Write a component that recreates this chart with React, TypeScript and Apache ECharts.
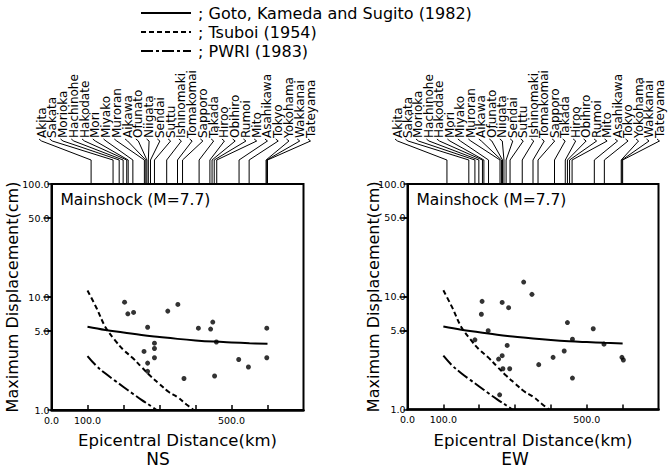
import React, { useEffect, useRef } from 'react';
import * as echarts from 'echarts';

const FONT = '"DejaVu Sans", "Liberation Sans", sans-serif';

// Stations (leader labels) and their epicentral distances (km)
const stationNames = ['Akita', 'Sakata', 'Morioka', 'Hachinohe', 'Hakodate', 'Mori', 'Miyako', 'Muroran', 'Aikawa', 'Ofunato', 'Niigata', 'Sendai', 'Suttu', 'Ishinomaki', 'Tomakomai', 'Sapporo', 'Takada', 'Hiroo', 'Obihiro', 'Rumoi', 'Mito', 'Asahikawa', 'Tokyo', 'Yokohama', 'Wakkanai', 'Tateyama'];
const stationDistKm = [110, 171, 188, 199, 209, 213, 226, 258, 262, 265, 269, 275, 286, 320, 350, 364, 410, 440, 446, 452, 459, 521, 549, 596, 598, 600];

// Observed maximum displacement, NS component
const nsDist = [203, 212, 228, 323, 351, 267, 408, 442, 448, 598, 257, 286, 286, 286, 267, 267, 368, 453, 520, 547, 598, 458];
const nsDisp = [9.0, 7.1, 7.3, 7.5, 8.6, 5.4, 5.3, 5.2, 6.0, 5.3, 3.3, 3.9, 3.5, 2.9, 2.6, 2.2, 1.9, 2.0, 2.8, 2.4, 2.9, 4.0];

// Observed maximum displacement, EW component
const ewDist = [324, 347, 208, 264, 282, 206, 225, 188, 278, 264, 254, 266, 285, 366, 406, 257, 437, 446, 460, 460, 518, 548, 598, 602];
const ewDisp = [13.5, 10.5, 9.1, 8.9, 8.0, 7.0, 5.0, 4.15, 3.7, 3.0, 2.8, 2.3, 2.3, 2.5, 2.9, 1.35, 3.3, 5.9, 4.2, 1.9, 5.2, 3.8, 2.9, 2.75];

// Empirical curves
const gotoDist = [100, 150, 200, 250, 300, 350, 400, 450, 500, 550, 600];
const gotoDisp = [5.45, 5.1, 4.85, 4.6, 4.42, 4.26, 4.13, 4.03, 3.96, 3.9, 3.85];
const tsuboiDist = [100, 125, 150, 175, 200, 225, 250, 275, 300, 325, 350, 375, 395];
const tsuboiDisp = [11.4, 8.0, 5.4, 4.2, 3.4, 2.9, 2.4, 2.0, 1.7, 1.45, 1.3, 1.12, 1.0];
const pwriDist = [100, 125, 150, 175, 200, 225, 250, 275, 292];
const pwriDisp = [3.0, 2.45, 2.1, 1.83, 1.6, 1.4, 1.23, 1.09, 1.0];

// Axis ticks
const xTickValues = [100, 200, 300, 400, 500, 600];
const xLabelValues = [0, 100, 500];
const yTickValues = [1, 5, 10, 50, 100];
const yRightTickValues = [5, 10, 50];

const legendLabels = ['; Goto, Kameda and Sugito (1982)', '; Tsuboi (1954)', '; PWRI (1983)'];
const panelTitles = ['NS', 'EW'];
const panelNote = 'Mainshock (M=7.7)';
const xAxisName = 'Epicentral Distance(km)';
const yAxisName = 'Maximum Displacement(cm)';

const LOG = (v: number) => Math.log10(v);
const pairs = (xs: number[], ys: number[]) => xs.map((x, i) => [x, LOG(ys[i])]);

const DASHED = [5, 3];
const DASHDOT = [12, 3, 3, 3];

export default function App() {
  const ref = useRef<HTMLDivElement>(null);

  useEffect(() => {
    document.body.style.margin = '0';
    if (!ref.current) return;
    const chart = echarts.init(ref.current, null, { renderer: 'svg' });

    const grids = [
      { left: 51.5, top: 184, width: 252, height: 226 },
      { left: 407.5, top: 184, width: 251, height: 225.5 },
    ];
    const yNameGaps = [31, 26];
    const labelSpan = [17, 11];

    const xAxes = grids.map((_, i) => ({
      gridIndex: i,
      type: 'value',
      min: 0,
      max: 700,
      name: xAxisName,
      nameLocation: 'middle',
      nameGap: 22,
      nameMoveOverlap: false,
      nameTextStyle: { fontSize: 16.5, fontFamily: FONT, color: '#000' },
      axisLine: { show: true, onZero: false, lineStyle: { color: '#000', width: 2.5 } },
      axisTick: { show: true, inside: true, length: 5, customValues: xTickValues, lineStyle: { color: '#000', width: 1.5 } },
      axisLabel: { show: true, customValues: xLabelValues, formatter: (v: number) => v.toFixed(1), fontSize: 9.5, fontFamily: FONT, color: '#000', margin: 5 },
      splitLine: { show: false },
    }));

    const yAxes: any[] = [];
    grids.forEach((_, i) => {
      yAxes.push({
        gridIndex: i,
        type: 'value',
        position: 'left',
        min: 0,
        max: 2,
        name: yAxisName,
        nameLocation: 'middle',
        nameGap: yNameGaps[i],
        nameMoveOverlap: false,
        nameTextStyle: { fontSize: 16, fontFamily: FONT, color: '#000' },
        axisLine: { show: true, onZero: false, lineStyle: { color: '#000', width: 2 } },
        axisTick: { show: true, inside: false, length: 4, customValues: yTickValues.map(LOG), lineStyle: { color: '#000', width: 1.5 } },
        axisLabel: { show: true, customValues: yTickValues.map(LOG), formatter: (v: number) => Math.pow(10, v).toFixed(1), fontSize: 9.5, fontFamily: FONT, color: '#000', margin: 2 },
        splitLine: { show: false },
      });
      yAxes.push({
        gridIndex: i,
        type: 'value',
        position: 'right',
        min: 0,
        max: 2,
        axisLine: { show: false },
        axisTick: { show: true, inside: true, length: 8, customValues: yRightTickValues.map(LOG), lineStyle: { color: '#000', width: 1.5 } },
        axisLabel: { show: false },
        splitLine: { show: false },
      });
    });

    const obs = [pairs(nsDist, nsDisp), pairs(ewDist, ewDisp)];
    const series: any[] = [];
    grids.forEach((_, i) => {
      const common = { xAxisIndex: i, yAxisIndex: i * 2 };
      series.push({ ...common, type: 'scatter', data: obs[i], symbol: 'circle', symbolSize: 5, itemStyle: { color: '#000' }, silent: true });
      series.push({ ...common, type: 'line', data: pairs(gotoDist, gotoDisp), smooth: 0.4, showSymbol: false, lineStyle: { color: '#000', width: 2 } });
      series.push({ ...common, type: 'line', data: pairs(tsuboiDist, tsuboiDisp), smooth: 0.4, showSymbol: false, lineStyle: { color: '#000', width: 2, type: DASHED } });
      series.push({ ...common, type: 'line', data: pairs(pwriDist, pwriDisp), smooth: 0.4, showSymbol: false, lineStyle: { color: '#000', width: 2, type: DASHDOT } });
      const span = labelSpan[i];
      series.push({
        ...common,
        type: 'custom',
        clip: false,
        silent: true,
        data: stationDistKm.map((d, k) => [d, 2, k]),
        renderItem: (params: any, api: any) => {
          const k = api.value(2);
          const d = api.value(0);
          const top = api.coord([d, 2]);
          const cs = params.coordSys;
          const step = (cs.width + span) / (stationNames.length - 1);
          const lx = cs.x - 10 + k * step;
          const lb = cs.y - 45;
          const bend = cs.y - 24;
          return {
            type: 'group',
            children: [
              {
                type: 'polyline',
                shape: { points: [[lx - 2.5, lb], [lx, lb + 2], [top[0], bend], [top[0], cs.y]] },
                style: { stroke: '#000', fill: null, lineWidth: 1 },
              },
              {
                type: 'text',
                x: lx,
                y: lb - 1,
                rotation: Math.PI / 2,
                style: { text: stationNames[k], fontSize: 12, fontFamily: FONT, fill: '#000', align: 'left', verticalAlign: 'middle' },
              },
            ],
          };
        },
      });
    });

    const legendY = [13, 32, 51];
    const legendDash: any[] = [null, DASHED, DASHDOT];
    const graphic: any[] = [];
    legendLabels.forEach((t, i) => {
      graphic.push({
        type: 'line',
        shape: { x1: 141, y1: legendY[i], x2: 191, y2: legendY[i] },
        style: { stroke: '#000', lineWidth: 2, lineDash: legendDash[i] || undefined },
      });
      graphic.push({
        type: 'text',
        x: 198,
        y: legendY[i],
        style: { text: t, fontSize: 16, lineHeight: 16, fontFamily: FONT, fill: '#000', align: 'left', verticalAlign: 'middle' },
      });
    });
    grids.forEach((g) => {
      graphic.push({
        type: 'text',
        x: g.left + 9,
        y: g.top + 16,
        style: { text: panelNote, fontSize: 15.5, fontFamily: FONT, fill: '#000', align: 'left', verticalAlign: 'middle' },
      });
    });
    const titleX = [158, 515];
    panelTitles.forEach((t, i) => {
      graphic.push({
        type: 'text',
        x: titleX[i],
        y: 459,
        style: { text: t, fontSize: 17, fontFamily: FONT, fill: '#000', align: 'center', verticalAlign: 'middle' },
      });
    });

    chart.setOption({
      animation: false,
      backgroundColor: '#fff',
      textStyle: { fontFamily: FONT, color: '#000' },
      grid: grids.map((g) => ({ ...g, show: true, borderColor: '#000', borderWidth: 2, backgroundColor: 'transparent', containLabel: false, outerBoundsMode: 'none' })),
      xAxis: xAxes,
      yAxis: yAxes,
      series,
      graphic,
    });

    return () => chart.dispose();
  }, []);

  return <div ref={ref} style={{ width: 669, height: 468 }} />;
}
